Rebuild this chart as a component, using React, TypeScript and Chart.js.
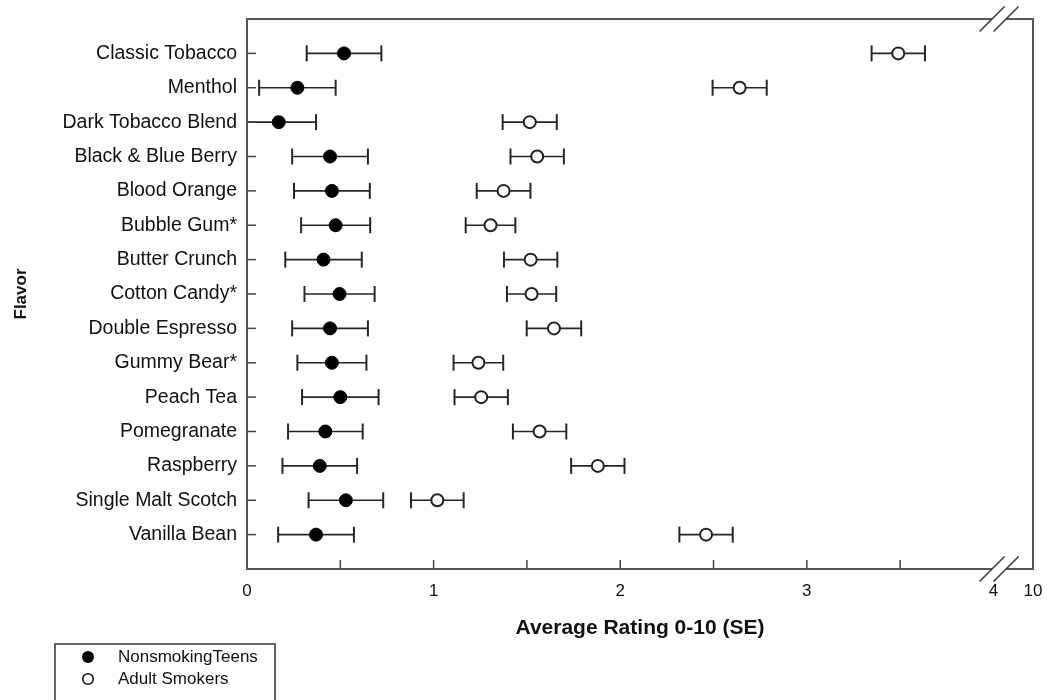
import React, { useEffect, useRef } from "react";
import { Chart, registerables } from "chart.js";

Chart.register(...registerables);

const categories = [
  "Classic Tobacco",
  "Menthol",
  "Dark Tobacco Blend",
  "Black & Blue Berry",
  "Blood Orange",
  "Bubble Gum*",
  "Butter Crunch",
  "Cotton Candy*",
  "Double Espresso",
  "Gummy Bear*",
  "Peach Tea",
  "Pomegranate",
  "Raspberry",
  "Single Malt Scotch",
  "Vanilla Bean",
];

const teenMean = [0.52, 0.27, 0.17, 0.445, 0.455, 0.475, 0.41, 0.496, 0.445, 0.455, 0.5, 0.42, 0.39, 0.53, 0.37];
const teenSE = [0.2, 0.205, 0.2, 0.203, 0.203, 0.185, 0.205, 0.188, 0.203, 0.185, 0.205, 0.2, 0.2, 0.2, 0.203];
const adultMean = [3.49, 2.64, 1.515, 1.555, 1.375, 1.305, 1.52, 1.525, 1.645, 1.24, 1.255, 1.568, 1.88, 1.02, 2.46];
const adultSE = [0.143, 0.145, 0.145, 0.143, 0.144, 0.133, 0.143, 0.132, 0.146, 0.133, 0.143, 0.143, 0.143, 0.141, 0.143];

const seriesNames = ["NonsmokingTeens", "Adult Smokers"];

// x axis: 0..4 linear, broken, with the end of the axis labelled 10
const xMajorTicks = [0, 1, 2, 3, 4];
const xMinorTicks = [0.5, 1.5, 2.5, 3.5];
const xAxisEnd = 4.212;
const xAxisEndLabel = "10";
const xBreakValue = 4.03;

const FONT = "'Liberation Sans', Arial, Helvetica, sans-serif";

const decorPlugin = {
  id: "decor",
  beforeDatasetsDraw(chart: any) {
    const { ctx, chartArea } = chart;
    const xs = chart.scales.x;
    const ys = chart.scales.y;
    ctx.save();
    ctx.beginPath();
    ctx.rect(chartArea.left + 1, chartArea.top, chartArea.right - chartArea.left, chartArea.bottom - chartArea.top);
    ctx.clip();
    const sets = [
      { m: teenMean, s: teenSE },
      { m: adultMean, s: adultSE },
    ];
    ctx.strokeStyle = "#262626";
    sets.forEach(({ m, s }) => {
      m.forEach((v, i) => {
        const y = ys.getPixelForValue(i);
        const x0 = xs.getPixelForValue(v - s[i]);
        const x1 = xs.getPixelForValue(v + s[i]);
        ctx.lineWidth = 1.6;
        ctx.beginPath();
        ctx.moveTo(x0, y);
        ctx.lineTo(x1, y);
        ctx.stroke();
        ctx.lineWidth = 2;
        [x0, x1].forEach((x) => {
          ctx.beginPath();
          ctx.moveTo(x, y - 8);
          ctx.lineTo(x, y + 8);
          ctx.stroke();
        });
      });
    });
    ctx.restore();
  },
  afterDraw(chart: any) {
    const { ctx, chartArea } = chart;
    const xs = chart.scales.x;
    const ys = chart.scales.y;
    const { left, right, top, bottom } = chartArea;
    ctx.save();
    // inside tick marks
    ctx.strokeStyle = "#444";
    ctx.lineWidth = 1.5;
    [...xMinorTicks, 1, 2, 3].forEach((v) => {
      const x = xs.getPixelForValue(v);
      ctx.beginPath();
      ctx.moveTo(x, bottom);
      ctx.lineTo(x, bottom - 9);
      ctx.stroke();
    });
    categories.forEach((_, i) => {
      const y = ys.getPixelForValue(i);
      ctx.beginPath();
      ctx.moveTo(left, y);
      ctx.lineTo(left + 9, y);
      ctx.stroke();
    });
    // frame with axis break
    const bx = xs.getPixelForValue(xBreakValue);
    const g = 7;
    ctx.strokeStyle = "#555";
    ctx.lineWidth = 2;
    ctx.beginPath();
    ctx.moveTo(left, top);
    ctx.lineTo(left, bottom);
    ctx.moveTo(left - 1, bottom);
    ctx.lineTo(bx - g, bottom);
    ctx.moveTo(bx + g, bottom);
    ctx.lineTo(right + 1, bottom);
    ctx.moveTo(left - 1, top);
    ctx.lineTo(bx - g, top);
    ctx.moveTo(bx + g, top);
    ctx.lineTo(right + 1, top);
    ctx.moveTo(right, top);
    ctx.lineTo(right, bottom);
    ctx.stroke();
    ctx.strokeStyle = "#3a3a3a";
    ctx.lineWidth = 1.6;
    [top, bottom].forEach((yy) => {
      [bx - g, bx + g].forEach((cx) => {
        ctx.beginPath();
        ctx.moveTo(cx - 12.5, yy + 12.5);
        ctx.lineTo(cx + 12.5, yy - 12.5);
        ctx.stroke();
      });
    });
    // legend box
    ctx.strokeStyle = "#666";
    ctx.lineWidth = 2;
    ctx.strokeRect(55, 644, 220, 80);
    ctx.font = `17px ${FONT}`;
    ctx.fillStyle = "#111";
    ctx.textBaseline = "middle";
    ctx.textAlign = "left";
    chart.data.datasets.forEach((ds: any, i: number) => {
      const cy = 657 + i * 22;
      ctx.beginPath();
      ctx.arc(88, cy, i === 0 ? 6 : 5.3, 0, Math.PI * 2);
      if (i === 0) {
        ctx.fillStyle = "#000";
        ctx.fill();
      } else {
        ctx.fillStyle = "#fff";
        ctx.fill();
        ctx.strokeStyle = "#111";
        ctx.lineWidth = 1.6;
        ctx.stroke();
      }
      ctx.fillStyle = "#111";
      ctx.fillText(ds.label, 118, cy);
    });
    ctx.restore();
  },
};

export default function App() {
  const ref = useRef<HTMLCanvasElement | null>(null);
  useEffect(() => {
    if (!ref.current) return;
    const chart = new Chart(ref.current, {
      type: "scatter",
      data: {
        datasets: [
          {
            label: seriesNames[0],
            data: teenMean.map((v, i) => ({ x: v, y: i })),
            backgroundColor: "#000",
            borderColor: "#000",
            borderWidth: 1,
            pointRadius: 6.5,
          },
          {
            label: seriesNames[1],
            data: adultMean.map((v, i) => ({ x: v, y: i })),
            backgroundColor: "#fff",
            borderColor: "#222",
            borderWidth: 2,
            pointRadius: 6,
          },
        ],
      },
      options: {
        responsive: false,
        animation: false,
        layout: { padding: { left: 0, right: 14, top: 19, bottom: 0 } },
        plugins: { legend: { display: false }, tooltip: { enabled: false } },
        scales: {
          x: {
            type: "linear",
            min: 0,
            max: xAxisEnd,
            grid: { display: false, drawTicks: true, tickLength: 8 },
            border: { display: false },
            afterBuildTicks: (scale: any) => {
              scale.ticks = [...xMajorTicks, ...xMinorTicks]
                .sort((a, b) => a - b)
                .concat([xAxisEnd])
                .map((v) => ({ value: v }));
            },
            afterFit: (scale: any) => {
              scale.height = 131;
            },
            ticks: {
              autoSkip: false,
              maxRotation: 0,
              padding: 4,
              color: "#111",
              font: { family: FONT, size: 17 },
              callback: (v: any) => {
                if (v === xAxisEnd) return xAxisEndLabel;
                return xMajorTicks.includes(v) ? String(v) : "";
              },
            },
            title: {
              display: true,
              text: "Average Rating 0-10 (SE)",
              color: "#111",
              font: { family: FONT, size: 21, weight: "bold" },
              padding: { top: 0, bottom: 59 },
            },
          },
          y: {
            type: "linear",
            reverse: true,
            min: -1,
            max: 15,
            grid: { display: false, drawTicks: true, tickLength: 6 },
            border: { display: false },
            afterBuildTicks: (scale: any) => {
              scale.ticks = categories.map((_, i) => ({ value: i }));
            },
            afterFit: (scale: any) => {
              scale.width = 247;
            },
            ticks: {
              autoSkip: false,
              padding: 4,
              color: "#111",
              font: { family: FONT, size: 19.5 },
              callback: (v: any) => categories[v] ?? "",
            },
            title: {
              display: true,
              text: "Flavor",
              color: "#111",
              font: { family: FONT, size: 17, weight: "bold" },
              padding: { top: 11, bottom: 0 },
            },
          },
        },
      },
      plugins: [decorPlugin],
    });
    return () => chart.destroy();
  }, []);
  return (
    <div style={{ position: "fixed", left: 0, top: 0, width: 1047, height: 700, background: "#fff" }}>
      <canvas ref={ref} width={1047} height={700} style={{ display: "block" }} />
    </div>
  );
}
